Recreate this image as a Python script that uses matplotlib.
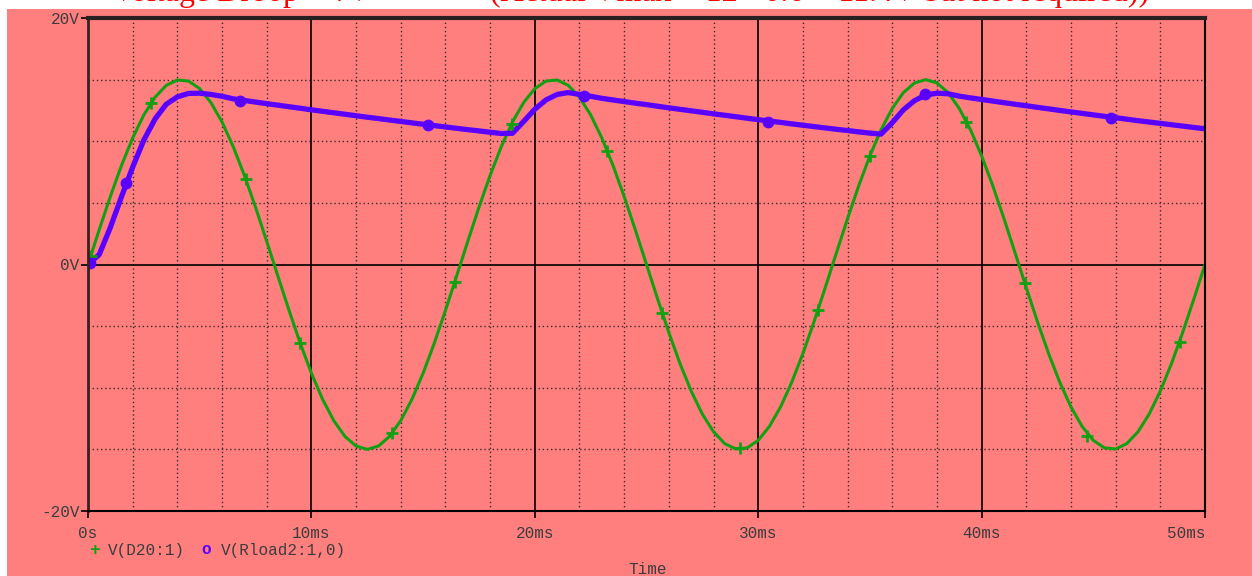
import numpy as np
import matplotlib
matplotlib.use("Agg")
import matplotlib.pyplot as plt
from matplotlib.patches import Rectangle

# ---- data ----
time_ms = np.linspace(0, 50, 101)  # 0.5 ms sample grid

v_d20 = [0.00, 2.81, 5.52, 8.04, 10.27, 12.14, 13.57, 14.53, 14.97, 14.88,
         14.27, 13.14, 11.56, 9.56, 7.23, 4.64, 1.88, -0.94, -3.73, -6.39,
         -8.82, -10.94, -12.66, -13.95, -14.73, -15.00, -14.73, -13.95, -12.66, -10.94,
         -8.82, -6.39, -3.73, -0.94, 1.88, 4.64, 7.23, 9.56, 11.56, 13.14,
         14.27, 14.88, 14.97, 14.53, 13.57, 12.14, 10.27, 8.04, 5.52, 2.81,
         0.00, -2.81, -5.52, -8.04, -10.27, -12.14, -13.57, -14.53, -14.97, -14.88,
         -14.27, -13.14, -11.56, -9.56, -7.23, -4.64, -1.88, 0.94, 3.73, 6.39,
         8.82, 10.94, 12.66, 13.95, 14.73, 15.00, 14.73, 13.95, 12.66, 10.94,
         8.82, 6.39, 3.73, 0.94, -1.88, -4.64, -7.23, -9.56, -11.56, -13.14,
         -14.27, -14.88, -14.97, -14.53, -13.57, -12.14, -10.27, -8.04, -5.52, -2.81,
         0.00]

v_rload = [0.00, 0.80, 3.00, 5.50, 7.90, 10.10, 11.80, 13.00, 13.60, 13.88,
           13.90, 13.80, 13.65, 13.44, 13.31, 13.18, 13.05, 12.93, 12.80, 12.68,
           12.55, 12.43, 12.31, 12.19, 12.07, 11.95, 11.84, 11.72, 11.61, 11.49,
           11.38, 11.27, 11.16, 11.05, 10.94, 10.84, 10.73, 10.63, 10.65, 11.60,
           12.60, 13.35, 13.80, 13.95, 13.80, 13.65, 13.48, 13.35, 13.22, 13.09,
           12.97, 12.84, 12.71, 12.59, 12.47, 12.35, 12.22, 12.11, 11.99, 11.87,
           11.75, 11.64, 11.53, 11.41, 11.30, 11.19, 11.08, 10.97, 10.87, 10.76,
           10.66, 10.58, 11.50, 12.55, 13.30, 13.75, 13.90, 13.85, 13.66, 13.52,
           13.39, 13.26, 13.13, 13.00, 12.88, 12.75, 12.63, 12.50, 12.38, 12.26,
           12.14, 12.02, 11.91, 11.79, 11.67, 11.56, 11.45, 11.34, 11.23, 11.12,
           11.01]

d20_marker_t = [0.12, 2.82, 7.07, 9.49, 13.6, 16.43, 18.98, 23.23, 25.7, 29.18,
                32.68, 35.0, 39.3, 41.94, 44.72, 48.88]
d20_marker_v = [0.7, 13.1, 6.9, -6.4, -13.7, -1.4, 11.4, 9.2, -3.9, -14.9,
                -3.7, 8.8, 11.6, -1.5, -13.9, -6.3]

rload_marker_t = [0.1, 1.7, 6.8, 15.2, 22.2, 30.44, 37.47, 45.8]
rload_marker_v = [0.1, 6.6, 13.3, 11.3, 13.7, 11.6, 13.8, 11.9]

x_ticks = [0, 10, 20, 30, 40, 50]
x_tick_labels = ["0s", "10ms", "20ms", "30ms", "40ms", "50ms"]
y_ticks = [-20, 0, 20]
y_tick_labels = ["-20V", "0V", "20V"]

legend_labels = ["V(D20:1)", "V(Rload2:1,0)"]
title_left = "Voltage Droop = ?V"
title_right = "(Actual Vmax = 12 - 0.6 = 11.4V but not required))"

# ---- style ----
PINK = "#ff7f7f"
GREEN = "#12a012"
BLUE = "#5a00ff"
TXT = "#3c3c3c"
MONO = ["Liberation Mono", "DejaVu Sans Mono"]

W, H = 1252, 576
fig = plt.figure(figsize=(W / 100, H / 100), dpi=100, facecolor="white")

# pink backdrop (leaves a thin white band top and left)
fig.patches.append(Rectangle((7 / W, 0), 1, (H - 9) / H, transform=fig.transFigure,
                             facecolor=PINK, edgecolor="none", zorder=-1))
# clipped red heading (mostly hidden under the backdrop)
fig.text(112 / W, 1 - 1.5 / H, title_left, color="red", fontsize=23,
         family="Liberation Serif", va="baseline", ha="left", zorder=-2)
fig.text(490 / W, 1 - 1.5 / H, title_right, color="red", fontsize=23,
         family="Liberation Serif", va="baseline", ha="left", zorder=-2)

ax = fig.add_axes([88 / W, 1 - 511 / H, (1205 - 88) / W, (511 - 18) / H])
ax.set_facecolor(PINK)
ax.set_xlim(0, 50)
ax.set_ylim(-20, 20)

# grid: dotted minor verticals every 2ms, dotted horizontals every 5V
dot = dict(color="#3a2a2a", linewidth=1.0, linestyle=(0, (1, 2)), zorder=1)
for xm in np.arange(2, 50, 2):
    if xm % 10 != 0:
        ax.axvline(xm, **dot)
for yv in [-15, -10, -5, 5, 10, 15]:
    ax.axhline(yv, **dot)
for xm in [10, 20, 30, 40]:
    ax.axvline(xm, color="black", linewidth=1.2, zorder=1)
ax.axhline(0, color="black", linewidth=1.2, zorder=1)

# traces
ax.plot(time_ms, v_d20, color=GREEN, linewidth=2.2, zorder=3, solid_capstyle="butt")
ax.plot(time_ms, v_rload, color=BLUE, linewidth=3.8, zorder=4, solid_joinstyle="round")
ax.plot(d20_marker_t, d20_marker_v, linestyle="none", marker="+", markersize=9,
        markeredgewidth=2.0, color=GREEN, zorder=5)
ax.plot(rload_marker_t, rload_marker_v, linestyle="none", marker="o", markersize=7,
        markeredgewidth=1.5, markerfacecolor=BLUE, markeredgecolor=BLUE, zorder=5)

# spines
for s in ["bottom", "right"]:
    ax.spines[s].set_color("black")
    ax.spines[s].set_linewidth(1.5)
ax.spines["left"].set_color("#3a2020")
ax.spines["left"].set_linewidth(2.0)
ax.spines["top"].set_color("#2a2020")
ax.spines["top"].set_linewidth(3.0)
for s in ax.spines.values():
    s.set_zorder(6)

# ticks
ax.set_xticks(x_ticks)
ax.set_xticklabels(x_tick_labels)
ax.set_yticks(y_ticks)
ax.set_yticklabels(y_tick_labels)
ax.tick_params(axis="both", direction="out", length=5, width=1.2, color="black",
               labelcolor=TXT, labelsize=11.5)
ax.tick_params(axis="x", pad=6)
ax.tick_params(axis="y", pad=1)
for lab in ax.get_xticklabels() + ax.get_yticklabels():
    lab.set_family(MONO)
xl = ax.get_xticklabels()
xl[-1].set_horizontalalignment("right")
xl[-1].set_x(50)

# legend as text rows
fig.text(94 / W, 1 - 550 / H, "+", color=GREEN, fontsize=13, fontweight="bold",
         family=MONO, ha="center", va="center")
fig.text(108 / W, 1 - 550 / H, legend_labels[0], color=TXT, fontsize=11.5,
         family=MONO, ha="left", va="center")
fig.text(206 / W, 1 - 549 / H, "o", color=BLUE, fontsize=11.5, fontweight="bold",
         family=MONO, ha="center", va="center")
fig.text(221 / W, 1 - 550 / H, legend_labels[1], color=TXT, fontsize=11.5,
         family=MONO, ha="left", va="center")

fig.text(648 / W, 1 - 569 / H, "Time", color=TXT, fontsize=11.5, family=MONO,
         ha="center", va="center")

fig.savefig("out.png", dpi=100, facecolor="white")
